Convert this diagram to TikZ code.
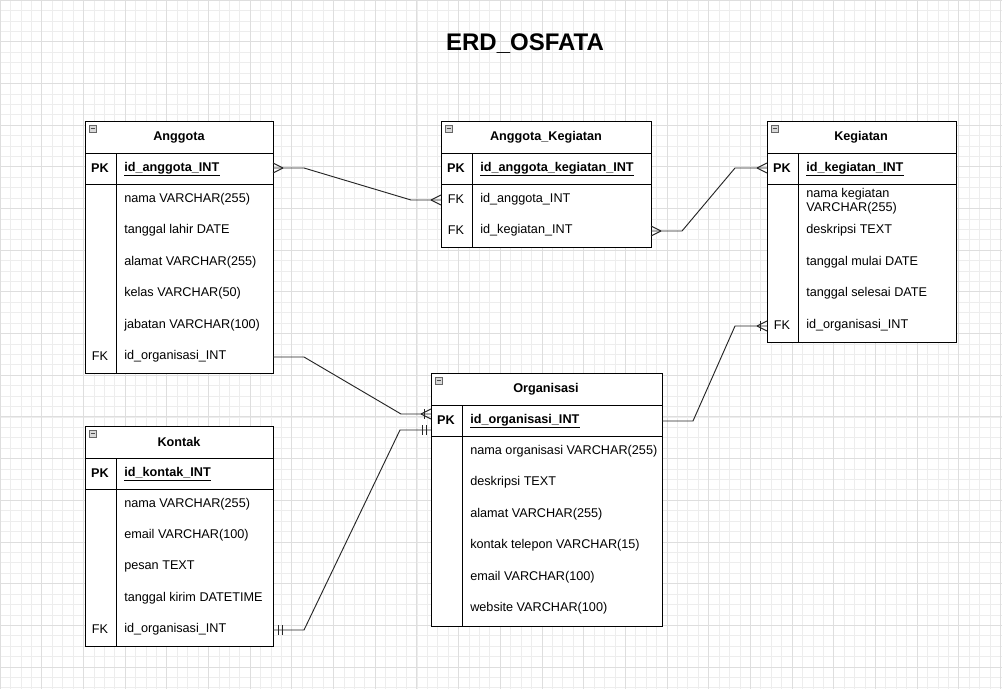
\documentclass[tikz,border=0pt]{standalone}
\usepackage{fontspec}
\setmainfont{Liberation Sans}
\usetikzlibrary{calc}

\tikzset{
  tbl/.style={draw=black,line width=0.75pt,fill=white},
  hdr/.style={font=\fontsize{9.5}{11}\selectfont\bfseries,inner sep=0pt},
  key/.style={font=\fontsize{9.5}{11}\selectfont\bfseries,inner sep=0pt},
  fld/.style={font=\fontsize{9.5}{11}\selectfont,anchor=west,inner sep=0pt,align=left},
  pkf/.style={font=\fontsize{9.5}{11}\selectfont\bfseries,anchor=west,inner sep=0pt},
  rel/.style={draw=black!85,line width=0.7pt},
}
% one field row: key column x, text x, y, key, text
\newcommand{\fieldrow}[5]{%
  \node[key] at (#1,#3) {#4};
  \node[fld] at (#2,#3) {#5};}
% primary key field, underlined: x, y, name, text
\newcommand{\pkrow}[4]{%
  \node[key] at (#1-24,#2) {PK};
  \node[pkf] (#3) at (#1,#2) {#4};
  \draw[line width=0.6pt] ($(#3.south west)+(0,1.5)$) -- ($(#3.south east)+(0,1.5)$);}
% small collapse box in the header
\newcommand{\collapsebox}[2]{%
  \draw[black!60,fill=black!15] (#1,#2) rectangle ++(7,7);
  \draw[black!70] ($(#1,#2)+(1.5,3.5)$) -- ++(4,0);}
% crow's foot (many), coordinate, direction +1 right / -1 left
\newcommand{\many}[2]{%
  \draw[rel] ($(#1)+(#2*10,0)$) -- ($(#1)+(0,5)$);
  \draw[rel] ($(#1)+(#2*10,0)$) -- ($(#1)+(0,-5)$);}
\newcommand{\onebar}[3]{%
  \draw[rel] ($(#1)+(#2*#3,-5)$) -- ($(#1)+(#2*#3,5)$);}

\begin{document}
\begin{tikzpicture}[x=0.75pt,y=-0.75pt]
  \useasboundingbox (0,0) rectangle (1002,689);
  \fill[white] (0,0) rectangle (1002,689);
  % grid
  \foreach \i in {0,...,96} \draw[black!7,line width=0.4pt] (\i*10.42,0) -- (\i*10.42,689);
  \foreach \i in {0,...,66} \draw[black!7,line width=0.4pt] (0,\i*10.42) -- (1002,\i*10.42);
  \foreach \i in {0,...,24} \draw[black!13,line width=0.5pt] (\i*41.68,0) -- (\i*41.68,689);
  \foreach \i in {0,...,16} \draw[black!13,line width=0.5pt] (0,\i*41.68) -- (1002,\i*41.68);

  \node[font=\fontsize{18}{20}\selectfont\bfseries] (title) at (525,44) {ERD\_OSFATA};

  % Anggota
  \draw[tbl] (85,121) rectangle (273,373);
  \draw[tbl] (85,153) -- (273,153) (85,184) -- (273,184) (116,153) -- (116,373);
  \collapsebox{89}{125}
  \node[hdr] (anggota) at (179,137) {Anggota};
  \pkrow{124}{168}{anggotaId}{id\_anggota\_INT}
  \fieldrow{100}{124}{199}{}{nama VARCHAR(255)}
  \fieldrow{100}{124}{230}{}{tanggal lahir DATE}
  \fieldrow{100}{124}{262}{}{alamat VARCHAR(255)}
  \fieldrow{100}{124}{293}{}{kelas VARCHAR(50)}
  \fieldrow{100}{124}{325}{}{jabatan VARCHAR(100)}
  \node[font=\fontsize{9.5}{11}\selectfont,inner sep=0pt] at (100,356) {FK};
  \node[fld] at (124,356) {id\_organisasi\_INT};
  \coordinate (anggotaPK) at (273,168);
  \coordinate (anggotaFK) at (273,357);

  % Anggota_Kegiatan
  \draw[tbl] (441,121) rectangle (651,247);
  \draw[tbl] (441,153) -- (651,153) (441,184) -- (651,184) (472,153) -- (472,247);
  \collapsebox{445}{125}
  \node[hdr] (ak) at (546,137) {Anggota\_Kegiatan};
  \pkrow{480}{168}{akId}{id\_anggota\_kegiatan\_INT}
  \node[font=\fontsize{9.5}{11}\selectfont,inner sep=0pt] at (456,199) {FK};
  \node[fld] at (480,199) {id\_anggota\_INT};
  \node[font=\fontsize{9.5}{11}\selectfont,inner sep=0pt] at (456,230) {FK};
  \node[fld] at (480,230) {id\_kegiatan\_INT};
  \coordinate (akAnggota) at (441,200);
  \coordinate (akKegiatan) at (651,231);

  % Kegiatan
  \draw[tbl] (767,121) rectangle (956,342);
  \draw[tbl] (767,153) -- (956,153) (767,184) -- (956,184) (798,153) -- (798,342);
  \collapsebox{771}{125}
  \node[hdr] (kegiatan) at (861,137) {Kegiatan};
  \pkrow{806}{168}{kegiatanId}{id\_kegiatan\_INT}
  \node[fld,font=\fontsize{9.5}{10.5}\selectfont] at (806,201) {nama kegiatan\\VARCHAR(255)};
  \fieldrow{782}{806}{230}{}{deskripsi TEXT}
  \fieldrow{782}{806}{262}{}{tanggal mulai DATE}
  \fieldrow{782}{806}{293}{}{tanggal selesai DATE}
  \node[font=\fontsize{9.5}{11}\selectfont,inner sep=0pt] at (782,325) {FK};
  \node[fld] at (806,325) {id\_organisasi\_INT};
  \coordinate (kegiatanPK) at (767,168);
  \coordinate (kegiatanFK) at (767,326);

  % Organisasi
  \draw[tbl] (431,373) rectangle (662,626);
  \draw[tbl] (431,405) -- (662,405) (431,436) -- (662,436) (462,405) -- (462,626);
  \collapsebox{435}{377}
  \node[hdr] (organisasi) at (546,389) {Organisasi};
  \pkrow{470}{420}{organisasiId}{id\_organisasi\_INT}
  \fieldrow{446}{470}{451}{}{nama organisasi VARCHAR(255)}
  \fieldrow{446}{470}{482}{}{deskripsi TEXT}
  \fieldrow{446}{470}{514}{}{alamat VARCHAR(255)}
  \fieldrow{446}{470}{545}{}{kontak telepon VARCHAR(15)}
  \fieldrow{446}{470}{577}{}{email VARCHAR(100)}
  \fieldrow{446}{470}{608}{}{website VARCHAR(100)}
  \coordinate (orgIn) at (431,414);
  \coordinate (orgKontak) at (431,430);
  \coordinate (orgPK) at (662,421);

  % Kontak
  \draw[tbl] (85,426) rectangle (273,646);
  \draw[tbl] (85,458) -- (273,458) (85,489) -- (273,489) (116,458) -- (116,646);
  \collapsebox{89}{430}
  \node[hdr] (kontak) at (179,442) {Kontak};
  \pkrow{124}{473}{kontakId}{id\_kontak\_INT}
  \fieldrow{100}{124}{504}{}{nama VARCHAR(255)}
  \fieldrow{100}{124}{535}{}{email VARCHAR(100)}
  \fieldrow{100}{124}{566}{}{pesan TEXT}
  \fieldrow{100}{124}{598}{}{tanggal kirim DATETIME}
  \node[font=\fontsize{9.5}{11}\selectfont,inner sep=0pt] at (100,629) {FK};
  \node[fld] at (124,629) {id\_organisasi\_INT};
  \coordinate (kontakFK) at (273,630);

  % relations
  \draw[rel] (anggotaPK) -- ++(31,0) -- ($(akAnggota)+(-30,0)$) -- (akAnggota);
  \many{anggotaPK}{1}
  \many{akAnggota}{-1}
  \draw[rel] (akKegiatan) -- ++(31,0) -- ($(kegiatanPK)+(-32,0)$) -- (kegiatanPK);
  \many{akKegiatan}{1}
  \many{kegiatanPK}{-1}
  \draw[rel] (anggotaFK) -- ++(31,0) -- ($(orgIn)+(-30,0)$) -- (orgIn);
  \many{orgIn}{-1}
  \onebar{orgIn}{-1}{7}
  \draw[rel] (kontakFK) -- ++(31,0) -- ($(orgKontak)+(-31,0)$) -- (orgKontak);
  \onebar{kontakFK}{1}{5}
  \onebar{kontakFK}{1}{9}
  \onebar{orgKontak}{-1}{5}
  \onebar{orgKontak}{-1}{9}
  \draw[rel] (orgPK) -- ++(31,0) -- ($(kegiatanFK)+(-32,0)$) -- (kegiatanFK);
  \many{kegiatanFK}{-1}
  \onebar{kegiatanFK}{-1}{7}
\end{tikzpicture}
\end{document}
